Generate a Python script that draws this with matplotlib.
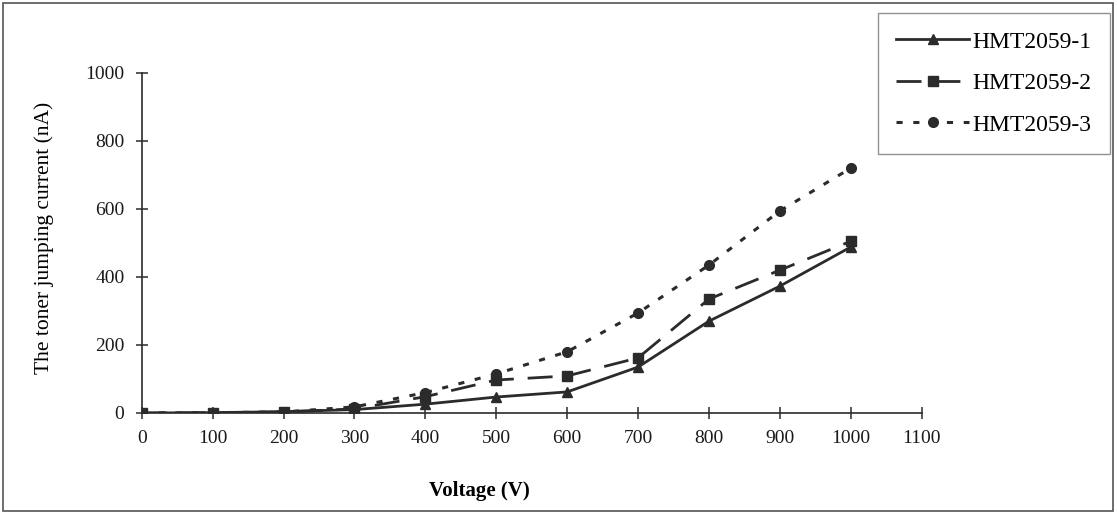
import matplotlib
matplotlib.use("Agg")
import matplotlib.pyplot as plt
from matplotlib.patches import Rectangle

plt.rcParams['font.family'] = ['Liberation Serif', 'DejaVu Serif']

voltage = [0, 100, 200, 300, 400, 500, 600, 700, 800, 900, 1000]
hmt1 = [0, 1, 4, 10, 26, 47, 62, 135, 270, 373, 488]
hmt2 = [0, 1, 3, 12, 48, 97, 109, 162, 335, 420, 505]
hmt3 = [0, 1, 3, 18, 60, 115, 180, 294, 435, 594, 720]
labels = ['HMT2059-1', 'HMT2059-2', 'HMT2059-3']

fig = plt.figure(figsize=(11.17, 5.14), dpi=100)
ax = fig.add_axes([0.127, 0.1965, 0.698, 0.6615])

c = '#2b2b2b'
ax.plot(voltage, hmt1, '-', color=c, lw=2, marker='^', ms=7, label=labels[0])
ax.plot(voltage, hmt2, color=c, lw=2, dashes=(9, 5), marker='s', ms=7, label=labels[1])
ax.plot(voltage, hmt3, color=c, lw=2.2, dashes=(2, 3.5), marker='o', ms=7, label=labels[2])

ax.set_xlim(0, 1100)
ax.set_ylim(0, 1000)
ax.set_xticks(range(0, 1101, 100))
ax.set_yticks(range(0, 1001, 200))
ax.spines['top'].set_visible(False)
ax.spines['right'].set_visible(False)
for s in ('left', 'bottom'):
    ax.spines[s].set_color(c)
    ax.spines[s].set_linewidth(1.2)
ax.tick_params(direction='inout', length=9, width=1.1, color=c, labelsize=14,
               labelcolor='#1a1a1a', pad=8)
ax.set_xlabel('Voltage (V)', fontsize=15, fontweight='bold')
ax.xaxis.set_label_coords(0.433, -0.20)
ax.set_ylabel('The toner jumping current (nA)', fontsize=15.5)
ax.yaxis.set_label_coords(-0.113, 0.515)

leg = fig.legend(loc='upper right', bbox_to_anchor=(0.9937, 0.975), borderaxespad=0,
                 fontsize=17, frameon=True, fancybox=False, edgecolor='#777777',
                 handlelength=3.1, labelspacing=0.85, borderpad=0.77, handletextpad=0.15)
leg.get_frame().set_linewidth(1.0)

fig.patches.append(Rectangle((0.003, 0.006), 0.993, 0.988, transform=fig.transFigure,
                             fill=False, edgecolor='#555555', lw=1.2))

fig.savefig('out.png', dpi=100)
